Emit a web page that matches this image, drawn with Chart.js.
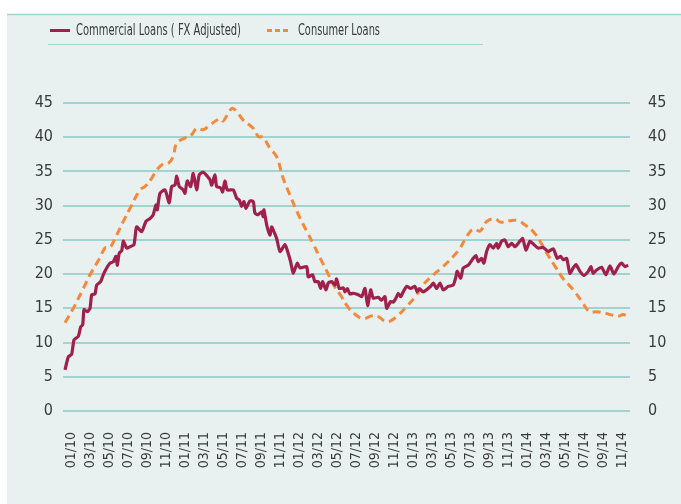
<!DOCTYPE html>
<html>
<head>
<meta charset="utf-8">
<script src="https://cdn.jsdelivr.net/npm/chart.js@4.4.1/dist/chart.umd.min.js"></script>
<style>
html, body { margin: 0; padding: 0; background: #fff; }
#wrap { width: 681px; height: 504px; }
</style>
</head>
<body>
<div id="wrap"><canvas id="myChart" width="681" height="504"></canvas></div>
<script>
// x tick labels (every two months, Jan 2010 = month 0)
var tickLabels = ['01/10', '03/10', '05/10', '07/10', '09/10', '11/10',
                  '01/11', '03/11', '05/11', '07/11', '09/11', '11/11',
                  '01/12', '03/12', '05/12', '07/12', '09/12', '11/12',
                  '01/13', '03/13', '05/13', '07/13', '09/13', '11/13',
                  '01/14', '03/14', '05/14', '07/14', '09/14', '11/14'];
var tickMonths = tickLabels.map(function (l, i) { return i * 2; });

// Commercial Loans (FX Adjusted): month position, value
var commercialMonths = [-0.63, -0.28, 0.07, 0.32, 0.77, 1.02, 1.23, 1.37, 1.71, 2.0, 2.18, 2.52, 2.70, 3.12, 3.39, 3.75,
    4.10, 4.45, 4.73, 4.87, 5.08, 5.33, 5.50, 5.85, 6.20, 6.62, 6.90, 7.43, 7.88, 8.30, 8.65, 8.93,
    9.07, 9.35, 9.88, 10.33, 10.58, 10.93, 11.11, 11.38, 11.80, 11.98, 12.22, 12.58, 12.85, 13.21, 13.48, 13.90,
    14.20, 14.61, 14.79, 15.13, 15.31, 15.73, 15.94, 16.18, 16.43, 17.06, 17.41, 17.69, 17.94, 18.18, 18.39, 18.81,
    19.16, 19.34, 19.68, 20.04, 20.21, 20.28, 20.57, 20.91, 21.09, 21.33, 21.62, 21.97, 22.49, 22.73, 23.09, 23.36,
    23.78, 24.07, 24.77, 24.94, 25.40, 25.64, 25.99, 26.24, 26.45, 26.80, 27.04, 27.40, 27.75, 27.92, 28.20, 28.62,
    28.80, 29.04, 29.32, 29.67, 30.19, 30.55, 30.90, 31.18, 31.50, 31.77, 32.30, 32.65, 33.00, 33.18, 33.60, 33.87,
    34.16, 34.40, 34.65, 34.92, 35.28, 35.70, 36.15, 36.39, 36.61, 37.02, 37.45, 37.80, 38.08, 38.43, 38.78, 39.13,
    39.65, 40.18, 40.46, 40.60, 40.96, 41.23, 41.76, 42.28, 42.57, 42.81, 43.16, 43.40, 43.69, 44.03, 44.38, 44.74,
    44.91, 45.26, 45.61, 45.96, 46.32, 46.66, 47.01, 47.47, 47.82, 48.24, 48.59, 49.11, 49.64, 50.16, 50.69, 51.11,
    51.47, 51.74, 52.10, 52.44, 52.79, 53.07, 53.50, 53.92, 54.37, 54.65, 54.89, 55.25, 55.77, 56.23, 56.65, 57.07,
    57.52, 57.88, 58.22, 58.57];
var commercialValues = [6.0, 7.9, 8.3, 10.4, 10.9, 12.3, 12.6, 14.8, 14.5, 15.0, 17.0, 17.1, 18.4, 18.9, 19.9, 20.9,
    21.6, 21.8, 22.6, 21.3, 23.1, 23.4, 24.8, 23.8, 24.0, 24.3, 26.9, 26.2, 27.7, 28.1, 28.7, 30.1,
    29.4, 31.8, 32.3, 30.4, 32.8, 33.0, 34.3, 32.8, 32.3, 31.8, 33.6, 32.8, 34.7, 32.3, 34.5, 34.9,
    34.5, 33.8, 33.0, 34.5, 32.8, 32.6, 32.0, 33.6, 32.3, 32.3, 31.1, 30.8, 29.9, 30.6, 29.6, 30.7,
    30.6, 28.9, 28.7, 29.1, 28.4, 29.4, 27.2, 25.7, 26.9, 26.2, 25.2, 23.3, 24.3, 23.5, 21.8, 20.1,
    21.6, 20.9, 21.1, 19.6, 19.9, 18.9, 18.9, 17.9, 18.9, 17.7, 18.7, 18.9, 18.4, 19.3, 17.9, 18.0,
    17.4, 17.9, 17.1, 17.2, 17.0, 16.7, 17.9, 15.4, 17.7, 16.5, 16.6, 16.2, 16.7, 15.0, 16.0, 15.9,
    16.5, 17.2, 16.7, 17.4, 18.2, 17.9, 18.2, 17.4, 17.9, 17.4, 17.8, 18.2, 18.7, 17.9, 18.7, 17.7,
    18.2, 18.4, 19.6, 20.4, 19.4, 20.9, 21.3, 22.3, 22.7, 21.8, 22.3, 21.6, 23.3, 24.3, 23.8, 24.5,
    23.8, 24.8, 25.0, 24.0, 24.5, 24.0, 24.5, 25.2, 23.5, 24.8, 24.4, 23.8, 23.9, 23.3, 23.7, 22.3,
    22.6, 22.1, 22.3, 20.1, 20.9, 21.4, 20.4, 19.8, 20.4, 21.1, 20.1, 20.6, 21.0, 19.9, 21.2, 20.0,
    21.1, 21.6, 21.1, 21.3];

// Consumer Loans: month position, value
var consumerMonths = [-0.63, 0.24, 1.29, 2.0, 3.05, 3.57, 4.1, 4.62, 5.5, 6.2, 7.25, 7.78, 8.48, 9.0, 9.7, 10.23,
    10.75, 11.1, 12.0, 12.7, 13.2, 13.9, 14.6, 15.66, 16.0, 16.9, 17.4, 18.1, 19.16, 19.7, 20.2, 20.9,
    21.6, 22.3, 23.0, 23.9, 24.8, 25.5, 26.2, 26.9, 27.6, 28.3, 29.1, 29.7, 30.7, 31.6, 32.3, 33.0,
    33.5, 34.4, 35.3, 36.2, 37.0, 38.1, 39.1, 40.2, 40.9, 41.6, 42.3, 43.0, 43.7, 44.6, 45.1, 46.1,
    47.0, 47.7, 48.6, 49.3, 50.0, 50.9, 51.7, 52.8, 53.7, 54.5, 55.3, 56.1, 57.0, 57.7, 58.0, 58.6];
var consumerValues = [12.9, 15.0, 17.9, 19.9, 22.4, 23.8, 23.9, 25.2, 27.7, 29.6, 32.3, 32.8, 34.0, 35.2, 36.1, 36.2,
    37.2, 39.1, 39.9, 40.4, 41.3, 41.1, 41.8, 42.7, 42.4, 44.2, 43.8, 42.5, 41.3, 40.1, 40.0, 38.4,
    37.2, 34.0, 31.6, 28.7, 26.2, 24.3, 22.3, 20.4, 18.4, 17.0, 15.2, 14.3, 13.5, 13.9, 13.8, 13.1,
    13.1, 14.0, 15.3, 16.7, 18.4, 19.9, 21.1, 22.6, 23.8, 25.5, 26.6, 26.3, 27.7, 28.1, 27.6, 27.8,
    27.8, 27.2, 26.2, 24.8, 23.1, 21.1, 19.4, 17.7, 16.0, 14.5, 14.5, 14.3, 14.0, 13.9, 14.1, 13.8];

var FONT = "'Liberation Sans Narrow', 'DejaVu Sans Condensed', sans-serif";
var TEXT = '#3a3a3a';
var GRID = '#a2d2d2';

function toPoints(xs, ys) {
    return xs.map(function (x, i) { return { x: x, y: ys[i] }; });
}

// draw text squeezed into a given width (the original uses a condensed face)
function narrowText(c, text, x, y, width) {
    var w = c.measureText(text).width;
    var k = Math.min(1, width / w);
    c.save();
    c.translate(x, y);
    c.scale(k, 1);
    c.fillText(text, 0, 0);
    c.restore();
}

// background panel, top rule and a hand drawn legend
var panelPlugin = {
    id: 'panel',
    beforeDraw: function (chart) {
        var c = chart.ctx;
        c.save();
        c.fillStyle = '#ffffff';
        c.fillRect(0, 0, chart.width, chart.height);
        c.fillStyle = '#e8f1ef';
        c.fillRect(7, 14, chart.width - 7, chart.height - 14);
        c.strokeStyle = GRID;
        c.lineWidth = 1.5;
        c.beginPath();
        c.moveTo(7, 14.5);
        c.lineTo(chart.width, 14.5);
        c.stroke();
        c.lineWidth = 1;
        c.beginPath();
        c.moveTo(48, 44.5);
        c.lineTo(483, 44.5);
        c.stroke();
        c.restore();
    },
    afterDraw: function (chart) {
        var c = chart.ctx;
        var ds = chart.data.datasets;
        c.save();
        c.font = '15px ' + FONT;
        c.textBaseline = 'middle';
        c.fillStyle = TEXT;
        // commercial
        c.strokeStyle = ds[0].borderColor;
        c.lineWidth = 3;
        c.beginPath();
        c.moveTo(50, 30.5);
        c.lineTo(70, 30.5);
        c.stroke();
        narrowText(c, ds[0].label, 76, 31, 165);
        // consumer
        c.strokeStyle = ds[1].borderColor;
        c.setLineDash([5, 3]);
        c.beginPath();
        c.moveTo(267, 30.5);
        c.lineTo(289, 30.5);
        c.stroke();
        c.setLineDash([]);
        narrowText(c, ds[1].label, 298, 31, 82);
        c.restore();
    }
};

var yTicks = {
    stepSize: 5,
    padding: 10,
    color: TEXT,
    font: { family: FONT, size: 16 }
};

var ctx = document.getElementById('myChart').getContext('2d');
var myChart = new Chart(ctx, {
    type: 'line',
    data: {
        datasets: [{
            label: 'Commercial Loans ( FX Adjusted)',
            data: toPoints(commercialMonths, commercialValues),
            borderColor: '#a01f4b',
            borderWidth: 3.2,
            pointRadius: 0,
            tension: 0.2,
            yAxisID: 'y'
        }, {
            label: 'Consumer Loans',
            data: toPoints(consumerMonths, consumerValues),
            borderColor: '#f5893b',
            borderWidth: 3,
            borderDash: [8, 5],
            pointRadius: 0,
            tension: 0.4,
            yAxisID: 'y'
        }]
    },
    options: {
        responsive: false,
        animation: false,
        layout: { padding: { top: 103, left: 0, right: 0, bottom: 0 } },
        plugins: {
            legend: { display: false },
            tooltip: { enabled: false }
        },
        scales: {
            x: {
                type: 'linear',
                min: -0.84,
                max: 58.76,
                afterBuildTicks: function (s) {
                    s.ticks = tickMonths.map(function (v) { return { value: v }; });
                },
                afterFit: function (s) { s.height = 93; },
                grid: { display: false },
                border: { display: false },
                ticks: {
                    autoSkip: false,
                    maxRotation: 90,
                    minRotation: 90,
                    padding: 13,
                    color: TEXT,
                    font: { family: FONT, size: 14 },
                    callback: function (v) { return tickLabels[tickMonths.indexOf(v)]; }
                }
            },
            y: {
                position: 'left',
                min: 0,
                max: 45,
                afterFit: function (s) { s.width = 63; },
                grid: { color: GRID, lineWidth: 2, drawTicks: false },
                border: { display: false },
                ticks: yTicks
            },
            y2: {
                position: 'right',
                min: 0,
                max: 45,
                afterFit: function (s) { s.width = 51; },
                grid: { display: false },
                border: { display: false },
                ticks: yTicks
            }
        }
    },
    plugins: [panelPlugin]
});
</script>
</body>
</html>
